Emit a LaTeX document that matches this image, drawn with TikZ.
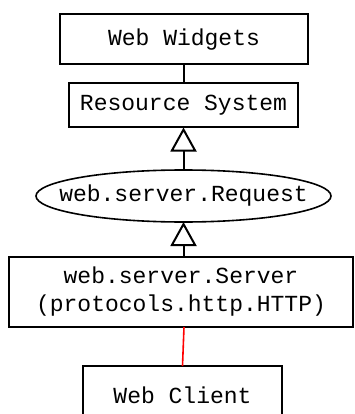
\documentclass[tikz,border=0pt]{standalone}
\usepackage{fontspec}
\setmonofont{Liberation Mono}
\usetikzlibrary{arrows.meta,shapes.geometric}
\begin{document}
\begin{tikzpicture}[x=1pt,y=-1pt,
  every node/.style={font=\ttfamily\fontsize{23}{28}\selectfont, inner sep=0pt, outer sep=0pt, align=center},
  boxnode/.style={draw, line width=2pt, rectangle},
  ellnode/.style={draw, line width=1.6pt, ellipse},
  conn/.style={line width=2pt},
  genarrow/.style={line width=2pt, -{Triangle[open, length=24pt 0 0, width=26pt 0 0]}},
  redline/.style={draw=red, line width=1.6pt}]
\useasboundingbox[fill=white] (0,0) rectangle (354,414);
\node[boxnode, minimum width=248pt, minimum height=50pt] (ww) at (184,39.5) {Web Widgets};
\node[boxnode, minimum width=229pt, minimum height=44pt] (rs) at (183.5,105.5) {Resource System};
\node[ellnode, minimum width=295pt, minimum height=52pt, label={center:web.server.Request}] (req) at (183.5,196) {};
\node[boxnode, minimum width=344pt, minimum height=70pt] (srv) at (181,292) {web.server.Server\\(protocols.http.HTTP)};
\node[boxnode, minimum width=199pt, minimum height=58pt] (wc) at (182.5,395) {Web Client};
\draw[conn] (ww.south -| rs.south) -- (rs.south |- rs.north);
\draw[genarrow] (req.north) -- (req.north |- rs.south);
\draw[genarrow] (req.south |- srv.north) -- (req.south);
\draw[redline] ([xshift=3pt]srv.south) -- (wc.north);
\end{tikzpicture}
\end{document}
